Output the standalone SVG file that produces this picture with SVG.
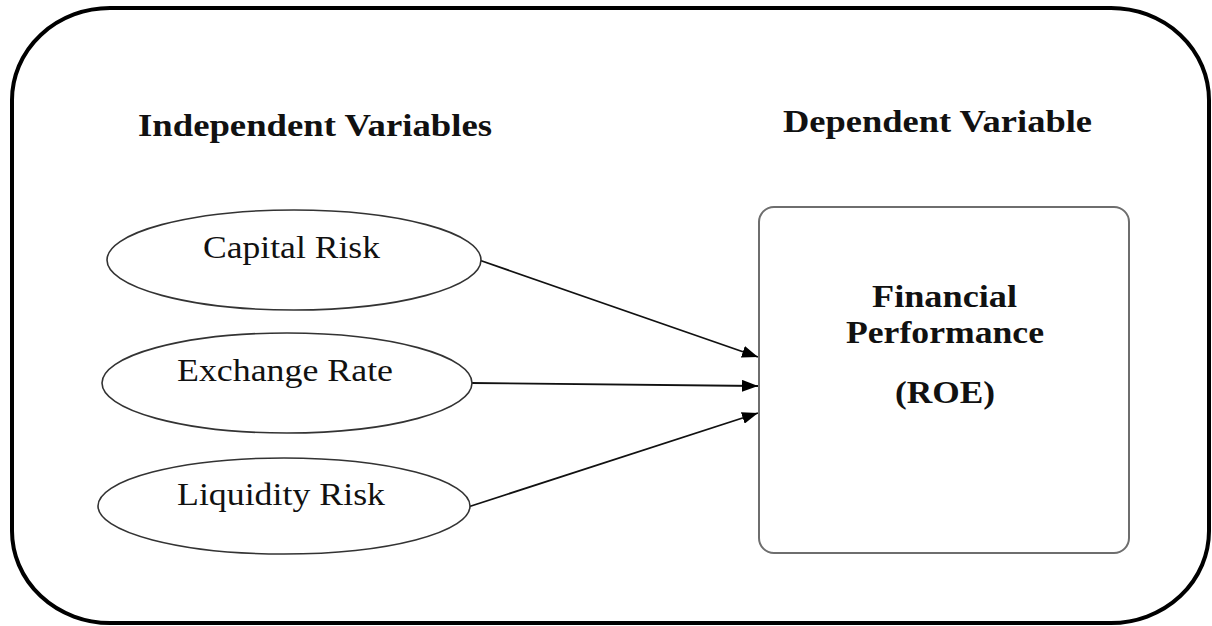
<svg xmlns="http://www.w3.org/2000/svg" width="1212" height="626" viewBox="0 0 1212 626">
  <style>
    .frame { fill: #ffffff; stroke: #000000; stroke-width: 4; }
    .var { fill: #ffffff; stroke: #333333; stroke-width: 1.6; }
    .box { fill: #ffffff; stroke: #6e6e6e; stroke-width: 2; }
    .edge { stroke: #111111; stroke-width: 1.8; fill: none; marker-end: url(#head); }
    .label { font-family: "Liberation Serif", "Times New Roman", serif; font-size: 32px; fill: #111111; }
    .heading { font-family: "Liberation Serif", "Times New Roman", serif; font-size: 32px; font-weight: bold; fill: #111111; }
  </style>
  <defs>
    <marker id="head" viewBox="0 0 16 12" refX="16" refY="6" markerWidth="16" markerHeight="12" markerUnits="userSpaceOnUse" orient="auto">
      <path d="M0,0 L16,6 L0,12 Z" fill="#000000"/>
    </marker>
  </defs>

  <rect width="1212" height="626" fill="#ffffff"/>

  <!-- outer frame -->
  <rect class="frame" x="12" y="8" width="1197" height="615" rx="98" ry="92"/>

  <!-- column headings -->
  <text class="heading" x="138" y="136" textLength="354" lengthAdjust="spacingAndGlyphs">Independent Variables</text>
  <text class="heading" x="783" y="132" textLength="309" lengthAdjust="spacingAndGlyphs">Dependent Variable</text>

  <!-- connectors -->
  <g id="connectors">
    <line class="edge" x1="479" y1="260" x2="758" y2="357"/>
    <line class="edge" x1="471" y1="383" x2="758" y2="386"/>
    <line class="edge" x1="468" y1="507" x2="758" y2="413"/>
  </g>

  <!-- independent variables -->
  <g id="capital-risk">
    <ellipse class="var" cx="294" cy="260" rx="187" ry="50"/>
    <text class="label" x="203" y="258" textLength="177" lengthAdjust="spacingAndGlyphs">Capital Risk</text>
  </g>
  <g id="exchange-rate">
    <ellipse class="var" cx="287" cy="383" rx="185" ry="50"/>
    <text class="label" x="177" y="381" textLength="216" lengthAdjust="spacingAndGlyphs">Exchange Rate</text>
  </g>
  <g id="liquidity-risk">
    <ellipse class="var" cx="284" cy="506" rx="186" ry="48"/>
    <text class="label" x="177" y="505" textLength="208" lengthAdjust="spacingAndGlyphs">Liquidity Risk</text>
  </g>

  <!-- dependent variable -->
  <g id="financial-performance">
    <rect class="box" x="759" y="207" width="370" height="346" rx="15" ry="15"/>
    <text class="heading" x="872" y="307" textLength="145" lengthAdjust="spacingAndGlyphs">Financial</text>
    <text class="heading" x="846" y="343" textLength="198" lengthAdjust="spacingAndGlyphs">Performance</text>
    <text class="heading" x="895" y="403" textLength="100" lengthAdjust="spacingAndGlyphs">(ROE)</text>
  </g>
</svg>
